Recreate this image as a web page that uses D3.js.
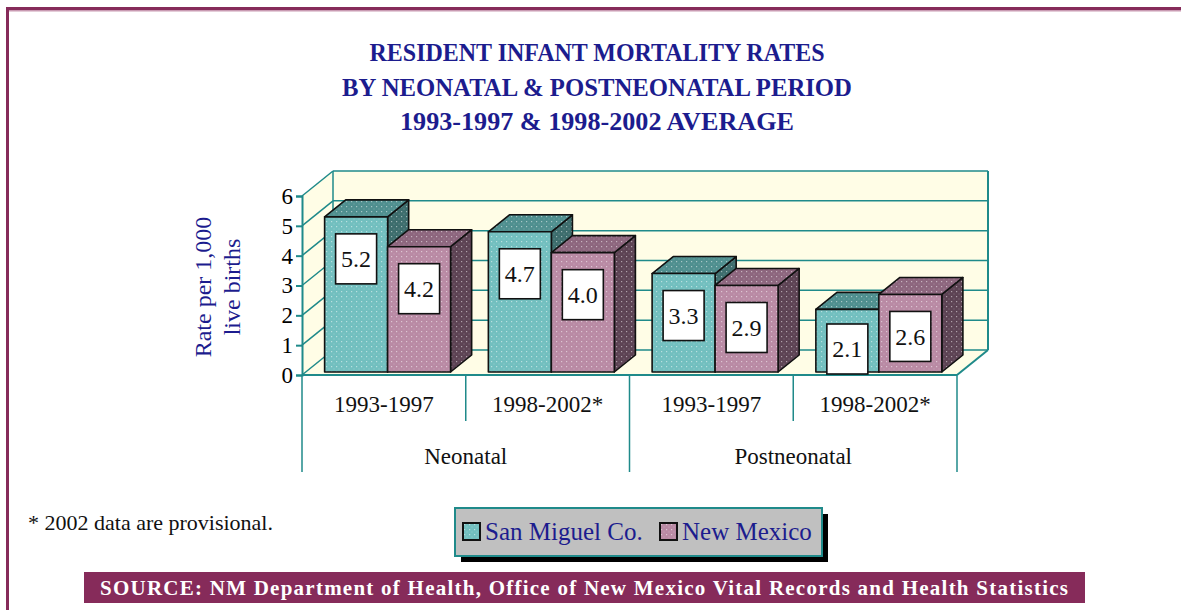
<!DOCTYPE html>
<html>
<head>
<meta charset="utf-8">
<script src="https://cdn.jsdelivr.net/npm/d3@7"></script>
<style>
  html, body { margin: 0; padding: 0; background: #fff; }
  svg text { font-family: "Liberation Serif", "Times New Roman", Times, "DejaVu Serif", serif !important; }
</style>
</head>
<body>
<svg id="chart" width="1181" height="610" font-family="Liberation Serif, Times New Roman, serif"></svg>
<script>
// data
const titleLines = ['RESIDENT INFANT MORTALITY RATES', 'BY NEONATAL & POSTNEONATAL PERIOD', '1993-1997 & 1998-2002 AVERAGE'];
const titleWidths = [455, 510, 394];
const periods = ['1993-1997', '1998-2002*', '1993-1997', '1998-2002*'];
const groups = ['Neonatal', 'Postneonatal'];
const seriesNames = ['San Miguel Co.', 'New Mexico'];
const sanMiguel = [5.2, 4.7, 3.3, 2.1];
const newMexico = [4.2, 4.0, 2.9, 2.6];
const yTicks = [0, 1, 2, 3, 4, 5, 6];

const svg = d3.select('#chart');
const defs = svg.append('defs');

const MAROON = '#862b5a';
const NAVY = '#1c1c8e';
const TEAL = '#1f8a8a';

// plot geometry
const X0 = 302, X1 = 957, BASE = 375, TOP = 196;
const DX = 31, DY = -25;          // depth of the box
const FRONT = 0.12, BACK = 0.80;  // bar depth inside the box

const y = d3.scaleLinear().domain([0, 6]).range([BASE, TOP]);
const x = d3.scaleBand().domain(d3.range(periods.length)).range([X0, X1]);
const xs = d3.scaleBand().domain(seriesNames).range([0, x.bandwidth()]).paddingOuter(0.3);

const colors = {
  'San Miguel Co.': { front: '#72bfbf', top: '#4f8f8f', side: '#3d6d6d' },
  'New Mexico': { front: '#b98aa4', top: '#8d667e', side: '#5d4354' }
};

// dotted fills
function dotPattern(id, base) {
  const p = defs.append('pattern').attr('id', id)
    .attr('width', 5).attr('height', 5).attr('patternUnits', 'userSpaceOnUse');
  p.append('rect').attr('width', 5).attr('height', 5).attr('fill', base);
  p.append('rect').attr('x', 1).attr('y', 1).attr('width', 1.2).attr('height', 1.2)
    .attr('fill', '#fff').attr('opacity', 0.5);
  p.append('rect').attr('x', 3.5).attr('y', 3.5).attr('width', 1).attr('height', 1)
    .attr('fill', '#fff').attr('opacity', 0.25);
}
seriesNames.forEach((s, i) => {
  ['front', 'top', 'side'].forEach(f => dotPattern(`p${i}${f}`, colors[s][f]));
});

// frame
svg.append('rect').attr('x', 6).attr('y', 7).attr('width', 1175).attr('height', 3).attr('fill', MAROON);
svg.append('rect').attr('x', 9).attr('y', 10).attr('width', 1172).attr('height', 1.5).attr('fill', '#c99ab2');
svg.append('rect').attr('x', 6).attr('y', 7).attr('width', 3).attr('height', 603).attr('fill', MAROON);

// title
svg.append('g').selectAll('text').data(titleLines).join('text')
  .attr('x', 597).attr('y', (d, i) => 61 + i * 34.5)
  .attr('text-anchor', 'middle')
  .attr('font-size', 25).attr('font-weight', 'bold').attr('fill', NAVY)
  .attr('textLength', (d, i) => titleWidths[i]).attr('lengthAdjust', 'spacingAndGlyphs')
  .text(d => d);

// walls and floor
const wall = svg.append('g');
const yb = v => y(v) + DY;
wall.append('polygon')
  .attr('points', [[X0, BASE], [X1, BASE], [X1 + DX, BASE + DY], [X0 + DX, BASE + DY]].join(' '))
  .attr('fill', '#fffde6');
wall.append('polygon')
  .attr('points', [[X0, BASE], [X0, TOP], [X0 + DX, yb(6)], [X0 + DX, BASE + DY]].join(' '))
  .attr('fill', '#fffde6');
wall.append('rect')
  .attr('x', X0 + DX).attr('y', yb(6)).attr('width', X1 - X0).attr('height', y(0) - y(6))
  .attr('fill', '#fffde6');

wall.selectAll('line.grid').data(yTicks).join('line')
  .attr('class', 'grid')
  .attr('x1', X0 + DX).attr('x2', X1 + DX)
  .attr('y1', d => yb(d)).attr('y2', d => yb(d))
  .attr('stroke', TEAL).attr('stroke-width', 1.5);
wall.selectAll('line.side').data(yTicks).join('line')
  .attr('class', 'side')
  .attr('x1', X0).attr('x2', X0 + DX)
  .attr('y1', d => y(d)).attr('y2', d => yb(d))
  .attr('stroke', TEAL).attr('stroke-width', 1.5);
wall.append('line').attr('x1', X0 + DX).attr('x2', X0 + DX).attr('y1', yb(0)).attr('y2', yb(6))
  .attr('stroke', TEAL).attr('stroke-width', 1.5);
wall.append('line').attr('x1', X1 + DX).attr('x2', X1 + DX).attr('y1', yb(0)).attr('y2', yb(6))
  .attr('stroke', TEAL).attr('stroke-width', 2);
wall.append('line').attr('x1', X1).attr('x2', X1 + DX).attr('y1', BASE).attr('y2', BASE + DY)
  .attr('stroke', TEAL).attr('stroke-width', 2);
wall.append('line').attr('x1', X0).attr('x2', X1).attr('y1', BASE).attr('y2', BASE)
  .attr('stroke', TEAL).attr('stroke-width', 2);

// y axis
const yAxis = svg.append('g').attr('transform', `translate(${X0},0)`)
  .call(d3.axisLeft(y).tickValues(yTicks).tickSize(6).tickPadding(3).tickFormat(d3.format('d')));
yAxis.attr('font-family', null);
yAxis.select('.domain').attr('stroke', TEAL).attr('stroke-width', 2);
yAxis.selectAll('.tick line').attr('stroke', TEAL).attr('stroke-width', 2);
yAxis.selectAll('.tick text').attr('font-size', 23).attr('fill', '#000');

svg.append('text')
  .attr('transform', 'translate(211,287) rotate(-90)')
  .attr('text-anchor', 'middle').attr('font-size', 24).attr('fill', NAVY)
  .selectAll('tspan').data(['Rate per 1,000', 'live births']).join('tspan')
  .attr('x', 0).attr('dy', (d, i) => i === 0 ? 0 : 29)
  .text(d => d);

// bars
const bars = [];
periods.forEach((p, i) => {
  seriesNames.forEach((s, j) => {
    bars.push({ i, s, j, v: (j === 0 ? sanMiguel : newMexico)[i] });
  });
});

const barG = svg.append('g');
bars.forEach(b => {
  const fx = x(b.i) + xs(b.s) + FRONT * DX;
  const fy0 = BASE + FRONT * DY;
  const w = xs.bandwidth();
  const h = y(0) - y(b.v);
  const ddx = (BACK - FRONT) * DX, ddy = (BACK - FRONT) * DY;
  const fyt = fy0 - h;
  const g = barG.append('g').attr('stroke', '#111').attr('stroke-width', 1.6).attr('stroke-linejoin', 'round');
  g.append('polygon')
    .attr('points', [[fx + w, fy0], [fx + w + ddx, fy0 + ddy], [fx + w + ddx, fyt + ddy], [fx + w, fyt]].join(' '))
    .attr('fill', `url(#p${b.j}side)`);
  g.append('polygon')
    .attr('points', [[fx, fyt], [fx + ddx, fyt + ddy], [fx + w + ddx, fyt + ddy], [fx + w, fyt]].join(' '))
    .attr('fill', `url(#p${b.j}top)`);
  g.append('rect')
    .attr('x', fx).attr('y', fyt).attr('width', w).attr('height', h)
    .attr('fill', `url(#p${b.j}front)`);
  b.cx = fx + w / 2;
  b.cy = Math.min(fyt + 42, fy0 - 23);
});

// value labels
const lab = svg.append('g').selectAll('g').data(bars).join('g')
  .attr('transform', d => `translate(${d.cx},${d.cy})`);
lab.append('rect').attr('x', -20.5).attr('y', -25).attr('width', 41).attr('height', 50)
  .attr('fill', '#fff').attr('stroke', '#111').attr('stroke-width', 1.6);
lab.append('text').attr('text-anchor', 'middle').attr('dy', '0.35em')
  .attr('font-size', 24).attr('fill', '#111')
  .text(d => d3.format('.1f')(d.v));

// category axis
const cat = svg.append('g');
const bounds = d3.range(periods.length + 1).map(i => i < periods.length ? x(i) : X1);
cat.selectAll('line').data(bounds).join('line')
  .attr('x1', d => d).attr('x2', d => d)
  .attr('y1', BASE)
  .attr('y2', (d, i) => i % 2 === 0 ? 472 : 421)
  .attr('stroke', TEAL).attr('stroke-width', 1.5);
cat.selectAll('text.period').data(periods).join('text')
  .attr('class', 'period')
  .attr('x', (d, i) => x(i) + x.bandwidth() / 2).attr('y', 412)
  .attr('text-anchor', 'middle').attr('font-size', 23).attr('fill', '#111')
  .text(d => d);
cat.selectAll('text.group').data(groups).join('text')
  .attr('class', 'group')
  .attr('x', (d, i) => x(i * 2) + x.bandwidth()).attr('y', 464)
  .attr('text-anchor', 'middle').attr('font-size', 23).attr('fill', '#111')
  .text(d => d);

// footnote
svg.append('text').attr('x', 28).attr('y', 530).attr('font-size', 22).attr('fill', '#111')
  .text('* 2002 data are provisional.');

// legend
const leg = svg.append('g').attr('transform', 'translate(455,508)');
leg.append('rect').attr('x', 6).attr('y', 6).attr('width', 367).attr('height', 48).attr('fill', '#000');
leg.append('rect').attr('width', 367).attr('height', 48).attr('fill', '#c0c0c0')
  .attr('stroke', TEAL).attr('stroke-width', 2);
const legX = [8, 205];
seriesNames.forEach((s, j) => {
  const it = leg.append('g').attr('transform', `translate(${legX[j]},15)`);
  it.append('rect').attr('width', 17).attr('height', 17)
    .attr('fill', `url(#p${j}front)`).attr('stroke', '#111').attr('stroke-width', 2);
  it.append('text').attr('x', 22).attr('y', 17).attr('font-size', 25).attr('fill', NAVY).text(s);
});

// source banner
svg.append('rect').attr('x', 84).attr('y', 572).attr('width', 1001).attr('height', 31).attr('fill', MAROON);
svg.append('text').attr('x', 100).attr('y', 595)
  .attr('font-size', 21).attr('font-weight', 'bold').attr('fill', '#fff')
  .attr('textLength', 968).attr('lengthAdjust', 'spacing')
  .text('SOURCE: NM Department of Health, Office of New Mexico Vital Records and Health Statistics');
</script>
</body>
</html>
